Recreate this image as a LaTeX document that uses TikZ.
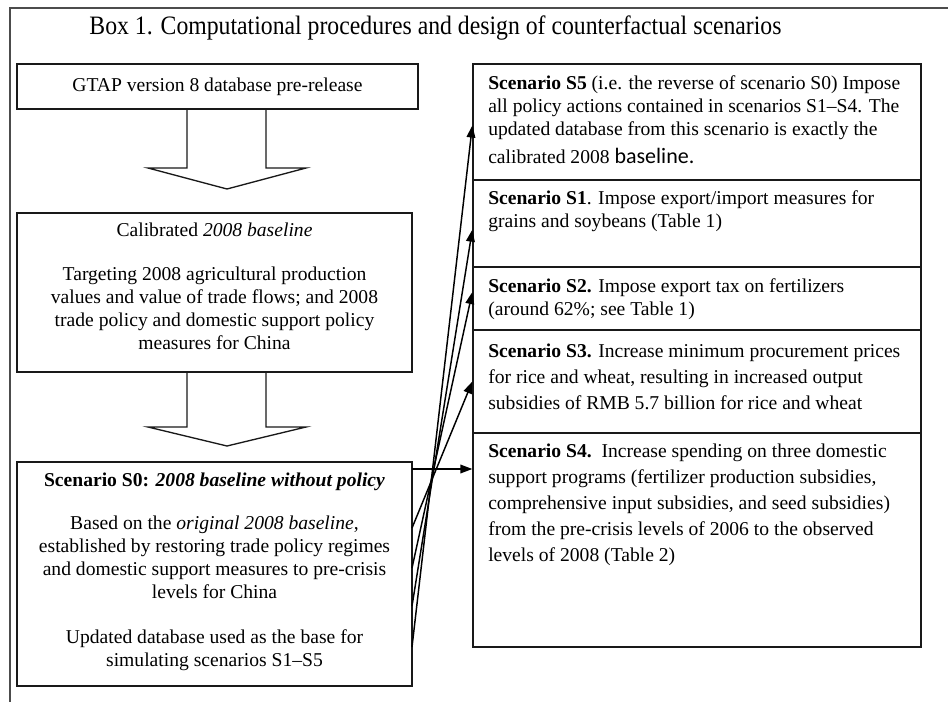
\documentclass[tikz,border=0pt]{standalone}
\usepackage{fontspec}
\setmainfont{Liberation Serif}
\newfontfamily\carl{Carlito}
\usetikzlibrary{arrows.meta,fit,calc}
\begin{document}
\begin{tikzpicture}[x=0.75pt,y=-0.75pt,
  every node/.style={font=\fontsize{14.7pt}{17.25pt}\selectfont},
  frame/.style={line width=1.6pt, draw=black!70},
  box/.style={draw=black!90, line width=1pt, inner sep=0pt, rectangle},
  blk/.style={draw=black!90, line width=1pt},
  arr/.style={line width=1.1pt, -{Triangle[length=9pt,width=6.5pt]}},
  ctext/.style={align=center, inner sep=0pt},
  ltext/.style={align=left, inner sep=0pt, anchor=west},
  wide/.style={font=\fontsize{14.7pt}{19.5pt}\selectfont},
]
\useasboundingbox (0,0) rectangle (948,702);
\draw[frame] (10,702) -- (10,8) -- (948,8);
\node[inner sep=0pt, font=\fontsize{17.8pt}{20pt}\selectfont] (title) at (435.5,28) {\scalebox{1}[1.12]{Box 1. Computational procedures and design of counterfactual scenarios}};

% left column
\node[box, fit={(17,64) (418,109)}] (gtap) {};
\node[ctext] (gtapt) at (gtap.center) {GTAP version 8 database pre-release};

\node[box, fit={(17,213) (412,372)}] (calib) {};
\node[ctext] (calibt) at (214.5,230) {Calibrated \textit{2008 baseline}};
\node[ctext] (calibb) at (214.5,308) {Targeting 2008 agricultural production\\values and value of trade flows; and 2008\\trade policy and domestic support policy\\measures for China};

\node[box, fit={(17,462) (412,686)}] (s0) {};
\node[ctext] (s0t) at (214.5,482) {\textbf{Scenario S0: \textit{2008 baseline without policy}}};
\node[ctext] (s0b) at (214.5,557) {Based on the \textit{original 2008 baseline},\\established by restoring trade policy regimes\\and domestic support measures to pre-crisis\\levels for China};
\node[ctext] (s0c) at (214.5,650.5) {Updated database used as the base for\\simulating scenarios S1--S5};

% block arrows
\draw[blk] (187,109) -- (187,168) -- (148,168) -- (227,189) -- (306,168) -- (266,168) -- (266,109);
\draw[blk] (187,372) -- (187,427) -- (148,427) -- (227,446) -- (306,427) -- (266,427) -- (266,372);

% right column
\node[box, fit={(473,64) (921,180)}] (s5) {};
\node[box, fit={(473,180) (921,267)}] (s1) {};
\node[box, fit={(473,267) (921,330)}] (s2) {};
\node[box, fit={(473,330) (921,433)}] (s3) {};
\node[box, fit={(473,433) (921,647)}] (s4) {};

\node[ltext] (s5t) at (488,107.5) {\textbf{Scenario S5} (i.e. the reverse of scenario S0) Impose\\all policy actions contained in scenarios S1--S4. The\\updated database from this scenario is exactly the};
\node[ltext] (s5u) at (488,156) {calibrated 2008 {\carl\fontsize{16.5pt}{18pt}\selectfont baseline.}};
\node[ltext] (s1t) at (488,211.5) {\textbf{Scenario S1}. Impose export/import measures for\\grains and soybeans (Table 1)};
\node[ltext] (s2t) at (488,299) {\textbf{Scenario S2.} Impose export tax on fertilizers\\(around 62\%; see Table 1)};
\node[ltext, wide] (s3t) at (488,377) {\textbf{Scenario S3.} Increase minimum procurement prices\\for rice and wheat, resulting in increased output\\subsidies of RMB 5.7 billion for rice and wheat};
\node[ltext, wide] (s4t) at (488,505) {\textbf{Scenario S4.}\ \ Increase spending on three domestic\\support programs (fertilizer production subsidies,\\comprehensive input subsidies, and seed subsidies)\\from the pre-crisis levels of 2006 to the observed\\levels of 2008 (Table 2)};

% connectors
\coordinate (f1) at (412,528);
\coordinate (f2) at (412,568);
\coordinate (f3) at (412,606);
\coordinate (f4) at (412,647);
\coordinate (h0) at (412,469);
\draw[arr] (f1) -- (s3.west);
\draw[arr] (f2) -- ($(s2.north west)!0.4!(s2.south west)$);
\draw[arr] (f3) -- ($(s1.north west)!0.57!(s1.south west)$);
\draw[arr] (f4) -- ($(s5.north west)!0.53!(s5.south west)$);
\draw[arr] (h0) -- (h0 -| s4.west);
\end{tikzpicture}
\end{document}
